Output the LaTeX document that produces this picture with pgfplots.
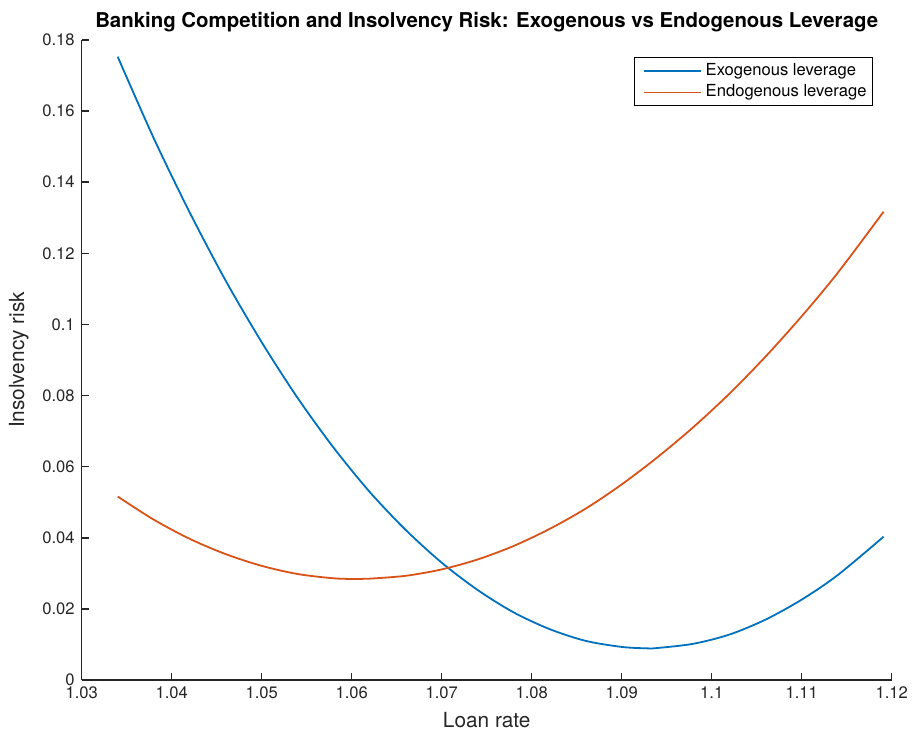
\documentclass[border=0pt]{standalone}
\usepackage{pgfplots}
\pgfplotsset{compat=1.18}
\usepackage{fontspec}
\setmainfont{TeX Gyre Heros}
\definecolor{mblue}{rgb}{0,0.447,0.741}
\definecolor{morange}{rgb}{0.85,0.325,0.098}
\definecolor{axgray}{rgb}{0.15,0.15,0.15}
\begin{document}
\begin{tikzpicture}
% fix picture size: 1px = 0.5pt, axis box lower-left at origin
\path[use as bounding box] (-40.85pt,-25.5pt) rectangle (415.15pt,340pt);
\begin{axis}[
    width=405pt, height=320pt, scale only axis,
    xmin=1.03, xmax=1.12, ymin=0, ymax=0.18,
    axis x line=bottom, axis y line=left,
    axis line style={-, axgray, line width=0.8pt},
    every tick/.style={axgray, line width=0.8pt},
    tick align=inside, major tick length=3.5pt,
    xtick={1.03,1.04,1.05,1.06,1.07,1.08,1.09,1.1,1.11,1.12},
    ytick={0,0.02,0.04,0.06,0.08,0.1,0.12,0.14,0.16,0.18},
    scaled ticks=false,
    /pgf/number format/fixed,
    /pgf/number format/assume math mode=true,
    /pgf/number format/precision=3,
    font=\fontsize{8.3pt}{10pt}\selectfont,
    tick label style={font=\fontsize{8.3pt}{10pt}\selectfont, text=axgray},
    xlabel={Loan rate}, ylabel={Insolvency risk},
    label style={font=\fontsize{10.4pt}{12pt}\selectfont, text=axgray},
    title={\textbf{Banking Competition and Insolvency Risk: Exogenous vs Endogenous Leverage}},
    title style={font=\fontsize{10.2pt}{12pt}\selectfont, yshift=-5.5pt},
    legend style={at={(0.977,0.973)}, anchor=north east, draw=black, line width=0.5pt,
        font=\fontsize{8.3pt}{9.5pt}\selectfont, inner sep=1pt, row sep=-1pt},
    legend cell align=left,
    legend image code/.code={\path (-0.12cm,0cm); \draw[#1] (0cm,0cm) -- (1.0cm,0cm);},
]
\addplot[mblue, line width=0.9pt, smooth] coordinates {
    (1.034,0.1753) (1.038,0.1524) (1.042,0.1315) (1.046,0.1123) (1.050,0.0950)
    (1.054,0.0793) (1.058,0.0653) (1.062,0.0529) (1.066,0.0422) (1.070,0.0330)
    (1.074,0.0253) (1.078,0.0190) (1.082,0.0143) (1.086,0.0110) (1.090,0.0093)
    (1.0928,0.0089) (1.094,0.0090) (1.098,0.0102) (1.102,0.0128) (1.106,0.0170)
    (1.110,0.0226) (1.114,0.0295) (1.1191,0.0403)
};
\addlegendentry{Exogenous leverage}
\addplot[morange, line width=0.9pt, smooth] coordinates {
    (1.034,0.0516) (1.038,0.0451) (1.042,0.0397) (1.046,0.0354) (1.050,0.0321)
    (1.054,0.0298) (1.058,0.0286) (1.0607,0.0284) (1.062,0.0285) (1.066,0.0293)
    (1.070,0.0311) (1.074,0.0339) (1.078,0.0377) (1.082,0.0425) (1.086,0.0482)
    (1.090,0.0550) (1.094,0.0627) (1.098,0.0712) (1.102,0.0806) (1.106,0.0910)
    (1.110,0.1023) (1.114,0.1145) (1.1191,0.1317)
};
\addlegendentry{Endogenous leverage}
\end{axis}
\end{tikzpicture}
\end{document}
